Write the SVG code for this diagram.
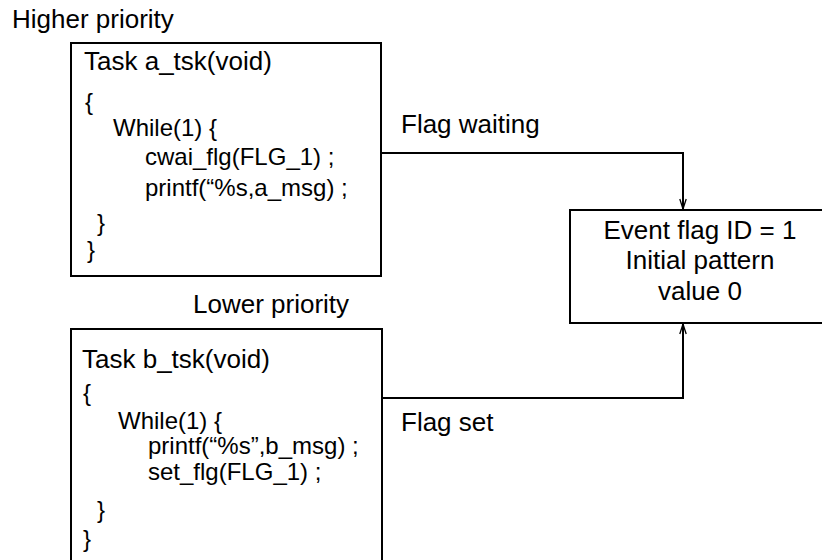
<svg xmlns="http://www.w3.org/2000/svg" width="822" height="560" viewBox="0 0 822 560">
<style>
text{font-family:"Liberation Sans",Arial,sans-serif;fill:#000}
.lbl{font-size:26px}
.code{font-size:24px}
.box{fill:#fff;stroke:#000;stroke-width:2}
.conn{fill:none;stroke:#000;stroke-width:2}
</style>
<defs>
<marker id="arr" markerUnits="userSpaceOnUse" markerWidth="12" markerHeight="10" refX="11" refY="5" orient="auto" viewBox="0 0 12 10">
<path d="M1,1.8 L11,5 L1,8.2" fill="none" stroke="#000" stroke-width="1.3"/>
</marker>
</defs>
<rect width="822" height="560" fill="#fff"/>
<text class="lbl" x="12" y="28">Higher priority</text>
<g id="task_a">
<rect class="box" x="71" y="43" width="310" height="233"/>
<text class="lbl" x="84" y="70">Task a_tsk(void)</text>
<text class="code" x="85" y="110">{</text>
<text class="code" x="113" y="136">While(1) {</text>
<text class="code" x="145" y="165">cwai_flg(FLG_1) ;</text>
<text class="code" x="145" y="196">printf(“%s,a_msg) ;</text>
<text class="code" x="97" y="231">}</text>
<text class="code" x="87" y="258">}</text>
</g>
<g id="event_flag">
<rect class="box" x="570" y="210" width="262" height="113"/>
<text class="lbl" x="700" y="239" text-anchor="middle">Event flag ID = 1</text>
<text class="lbl" x="700" y="269" text-anchor="middle">Initial pattern</text>
<text class="lbl" x="700" y="300" text-anchor="middle">value 0</text>
</g>
<text class="lbl" x="193" y="313">Lower priority</text>
<g id="task_b">
<rect class="box" x="71" y="329" width="311" height="240"/>
<text class="lbl" x="82" y="368">Task b_tsk(void)</text>
<text class="code" x="83" y="401">{</text>
<text class="code" x="118" y="429">While(1) {</text>
<text class="code" x="148" y="454">printf(“%s”,b_msg) ;</text>
<text class="code" x="148" y="480">set_flg(FLG_1) ;</text>
<text class="code" x="97" y="518">}</text>
<text class="code" x="83" y="547">}</text>
</g>
<g id="connectors">
<path class="conn" d="M381,153 H683 V209" marker-end="url(#arr)"/>
<path class="conn" d="M382,398 H683 V324" marker-end="url(#arr)"/>
<text class="lbl" x="401" y="133">Flag waiting</text>
<text class="lbl" x="401" y="431">Flag set</text>
</g>
</svg>
